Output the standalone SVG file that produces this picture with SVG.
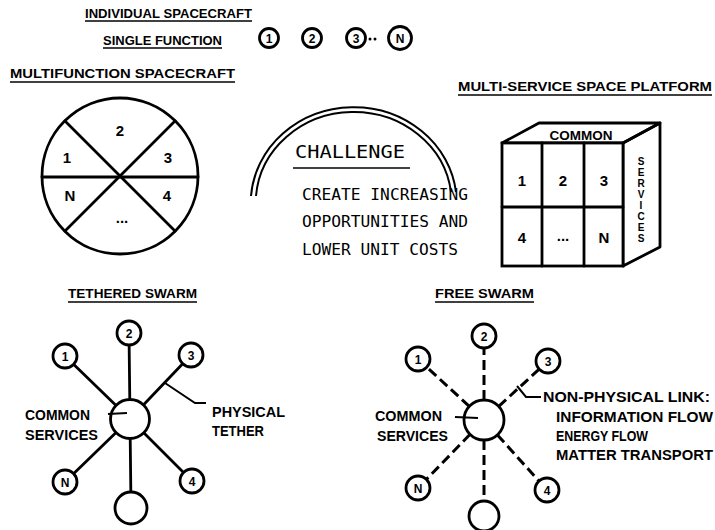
<svg xmlns="http://www.w3.org/2000/svg" width="715" height="530" viewBox="0 0 715 530">
<style>
text{font-family:"Liberation Sans","DejaVu Sans",sans-serif;font-weight:bold;fill:#000}
.t{font-size:14px}
.s{font-size:13.5px}
.lbl{font-size:12px;text-anchor:middle}
.lb2{font-size:15px;text-anchor:middle}
.big{font-family:"DejaVu Sans Mono","Liberation Mono",monospace;font-size:16px;font-weight:normal}
.ul{stroke:#000;stroke-width:1.6;fill:none}
.ln{stroke:#000;stroke-width:2.8;fill:none;stroke-linecap:round;stroke-linejoin:round}
.dl{stroke:#000;stroke-width:3;fill:none;stroke-dasharray:10 5}
.nd{stroke:#000;stroke-width:2.8;fill:#fff}
.thin{stroke:#000;stroke-width:2;fill:none}
</style>
<rect width="715" height="530" fill="#fff"/>

<g id="titles">
<text style="font-size:13px" x="85" y="18" textLength="167" lengthAdjust="spacingAndGlyphs">INDIVIDUAL SPACECRAFT</text>
<line class="ul" x1="85" y1="21" x2="252" y2="21"/>
<text style="font-size:13px" x="103" y="45" textLength="119" lengthAdjust="spacingAndGlyphs">SINGLE FUNCTION</text>
<line class="ul" x1="103" y1="48" x2="222" y2="48"/>
<text class="s" x="10" y="78" textLength="225" lengthAdjust="spacingAndGlyphs">MULTIFUNCTION SPACECRAFT</text>
<line class="ul" x1="10" y1="82" x2="235" y2="82"/>
<text class="s" x="458" y="91" textLength="254" lengthAdjust="spacingAndGlyphs">MULTI-SERVICE SPACE PLATFORM</text>
<line class="ul" x1="458" y1="95" x2="712" y2="95"/>
<text class="s" x="68" y="298" textLength="129" lengthAdjust="spacingAndGlyphs">TETHERED SWARM</text>
<line class="ul" x1="68" y1="302" x2="197" y2="302"/>
<text class="s" x="435" y="298" textLength="99" lengthAdjust="spacingAndGlyphs">FREE SWARM</text>
<line class="ul" x1="435" y1="302" x2="534" y2="302"/>
</g>

<g id="individual">
<circle class="nd" cx="269" cy="38" r="9.5"/><text class="lbl" x="269" y="43">1</text>
<circle class="nd" cx="312" cy="38" r="9.5"/><text class="lbl" x="312" y="43">2</text>
<circle class="nd" cx="356" cy="38" r="9.5"/><text class="lbl" x="356" y="43">3</text>
<circle cx="370" cy="39" r="1.5"/><circle cx="375" cy="39" r="1.5"/>
<circle class="nd" cx="400" cy="38" r="11.5"/><text class="lbl" x="400" y="43">N</text>
</g>

<g id="multifunction">
<circle class="nd" cx="120" cy="176" r="78"/>
<line class="ln" x1="42" y1="177" x2="198" y2="177"/>
<line class="ln" x1="65" y1="121" x2="175" y2="231"/>
<line class="ln" x1="175" y1="121" x2="65" y2="231"/>
<text class="lb2" x="120" y="136">2</text>
<text class="lb2" x="67" y="163">1</text>
<text class="lb2" x="168" y="163">3</text>
<text class="lb2" x="70" y="201">N</text>
<text class="lb2" x="167" y="201">4</text>
<text class="lb2" x="122" y="223">...</text>
</g>

<g id="challenge">
<path class="thin" d="M251 196 A103 96 0 0 1 456 192"/>
<path class="thin" d="M256 196 A98 91 0 0 1 451 192"/>
<text class="big" style="font-size:18px" x="295" y="158" textLength="110" lengthAdjust="spacingAndGlyphs">CHALLENGE</text>
<line class="ul" x1="293" y1="168" x2="410" y2="168"/>
<text class="big" x="302" y="200" textLength="166" lengthAdjust="spacingAndGlyphs">CREATE INCREASING</text>
<text class="big" x="302" y="227" textLength="166" lengthAdjust="spacingAndGlyphs">OPPORTUNITIES AND</text>
<text class="big" x="302" y="255" textLength="156" lengthAdjust="spacingAndGlyphs">LOWER UNIT COSTS</text>
</g>

<g id="platform">
<path class="ln" d="M502 143 L539 123 L660 123 L623 143 Z" fill="#fff"/>
<path class="ln" d="M623 143 L660 123 L660 247 L623 266 Z" fill="#fff"/>
<rect class="nd" x="502" y="143" width="121" height="123"/>
<line class="ln" x1="542" y1="143" x2="542" y2="266"/>
<line class="ln" x1="584" y1="143" x2="584" y2="266"/>
<line class="ln" x1="502" y1="207" x2="623" y2="207"/>
<text x="581" y="140" style="font-size:13px;text-anchor:middle" textLength="63" lengthAdjust="spacingAndGlyphs">COMMON</text>
<text class="lb2" x="522" y="186">1</text>
<text class="lb2" x="563" y="186">2</text>
<text class="lb2" x="604" y="186">3</text>
<text class="lb2" x="522" y="243">4</text>
<text class="lb2" x="563" y="241">...</text>
<text class="lb2" x="604" y="243">N</text>
<g style="font-size:10px;text-anchor:middle">
<text x="641" y="165">S</text><text x="641" y="176">E</text><text x="641" y="187">R</text><text x="641" y="198">V</text><text x="641" y="209">I</text><text x="641" y="220">C</text><text x="641" y="231">E</text><text x="641" y="242">S</text>
</g>
</g>

<g id="connectors">
<line class="ln" x1="130" y1="419" x2="65" y2="356"/>
<line class="ln" x1="130" y1="419" x2="129" y2="333"/>
<line class="ln" x1="130" y1="419" x2="191" y2="355"/>
<line class="ln" x1="130" y1="419" x2="65" y2="482"/>
<line class="ln" x1="130" y1="419" x2="192" y2="481"/>
<line class="ln" x1="130" y1="419" x2="131" y2="508"/>
<line class="dl" x1="469.3" y1="406.4" x2="426.8" y2="367.1"/>
<line class="dl" x1="484" y1="400" x2="484" y2="348"/>
<line class="dl" x1="498.7" y1="406.4" x2="539.2" y2="369.1"/>
<line class="dl" x1="470.1" y1="434.3" x2="426.4" y2="479.4"/>
<line class="dl" x1="497.4" y1="434.9" x2="539" y2="481.1"/>
<line class="dl" x1="484" y1="440" x2="484" y2="502"/>
</g>

<g id="tethered">
<circle class="nd" cx="130" cy="419" r="19.5"/>
<circle class="nd" cx="65" cy="356" r="12"/><text class="lbl" x="65" y="361">1</text>
<circle class="nd" cx="129" cy="333" r="12"/><text class="lbl" x="129" y="338">2</text>
<circle class="nd" cx="191" cy="355" r="12"/><text class="lbl" x="191" y="360">3</text>
<circle class="nd" cx="65" cy="482" r="12"/><text class="lbl" x="65" y="487">N</text>
<circle class="nd" cx="192" cy="481" r="12"/><text class="lbl" x="192" y="486">4</text>
<circle class="nd" cx="131" cy="508" r="16"/>
<text class="t" x="25" y="420" textLength="65" lengthAdjust="spacingAndGlyphs">COMMON</text>
<text class="t" x="25" y="440" textLength="73" lengthAdjust="spacingAndGlyphs">SERVICES</text>
<line class="thin" x1="108" y1="414" x2="127" y2="413"/>
<path class="thin" d="M165 383 L195 403 L206 403"/>
<text class="t" x="212" y="417" textLength="73" lengthAdjust="spacingAndGlyphs">PHYSICAL</text>
<text class="t" x="212" y="436" textLength="52" lengthAdjust="spacingAndGlyphs">TETHER</text>
</g>

<g id="free">
<circle class="nd" cx="484" cy="420" r="20"/>
<circle class="nd" cx="418" cy="359" r="12"/><text class="lbl" x="418" y="364">1</text>
<circle class="nd" cx="484" cy="336" r="12"/><text class="lbl" x="484" y="341">2</text>
<circle class="nd" cx="548" cy="361" r="12"/><text class="lbl" x="548" y="366">3</text>
<circle class="nd" cx="418" cy="488" r="12"/><text class="lbl" x="418" y="493">N</text>
<circle class="nd" cx="547" cy="490" r="12"/><text class="lbl" x="547" y="495">4</text>
<circle class="nd" cx="484" cy="516" r="15"/>
<text class="t" x="375" y="421" textLength="67" lengthAdjust="spacingAndGlyphs">COMMON</text>
<text class="t" x="377" y="441" textLength="71" lengthAdjust="spacingAndGlyphs">SERVICES</text>
<line class="thin" x1="455" y1="417" x2="478" y2="418"/>
<path class="thin" d="M517 386 L526 397 L541 397"/>
<text class="t" x="543" y="402" textLength="167" lengthAdjust="spacingAndGlyphs">NON-PHYSICAL LINK:</text>
<text class="t" x="556" y="422" textLength="157" lengthAdjust="spacingAndGlyphs">INFORMATION FLOW</text>
<text class="t" x="556" y="441" textLength="92" lengthAdjust="spacingAndGlyphs">ENERGY FLOW</text>
<text class="t" x="556" y="460" textLength="157" lengthAdjust="spacingAndGlyphs">MATTER TRANSPORT</text>
</g>
</svg>
